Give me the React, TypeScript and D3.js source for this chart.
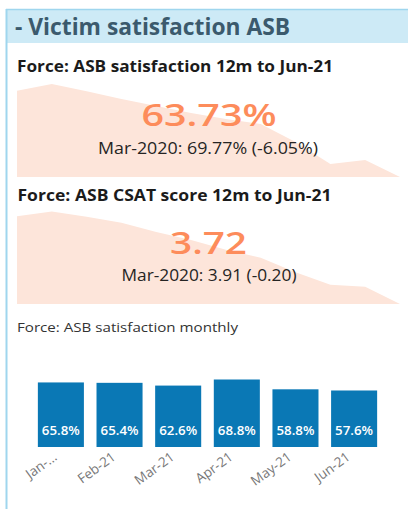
import React from "react";
import * as d3 from "d3";

const sparkMonths = ["Jul-20","Aug-20","Sep-20","Oct-20","Nov-20","Dec-20","Jan-21","Feb-21","Mar-21","Apr-21","May-21","Jun-21"];
const satisfaction12m = [66.67, 66.90, 66.65, 66.39, 66.15, 65.91, 65.71, 65.54, 64.92, 64.17, 64.31, 63.73];
const csat12m = [3.853, 3.860, 3.852, 3.843, 3.829, 3.817, 3.802, 3.790, 3.768, 3.749, 3.746, 3.720];

const barMonths = ["Jan-21","Feb-21","Mar-21","Apr-21","May-21","Jun-21"];
const barLabels = ["Jan-...","Feb-21","Mar-21","Apr-21","May-21","Jun-21"];
const barValues = [65.8, 65.4, 62.6, 68.8, 58.8, 57.6];

const FONT = "'Open Sans', 'Noto Sans', sans-serif";

function Spark({ values, top, bottom }: { values: number[]; top: number; bottom: number }) {
  const x = d3.scalePoint<string>().domain(sparkMonths).range([17, 400]);
  const y = d3.scaleLinear().domain([d3.min(values)!, d3.max(values)!]).range([bottom, top]);
  const area = d3
    .area<number>()
    .x((_, i) => x(sparkMonths[i])!)
    .y0(bottom)
    .y1((d) => y(d));
  return <path d={area(values) || ""} fill="#fde5da" />;
}

export default function App() {
  const xb = d3.scaleBand<string>().domain(barMonths).range([32, 383]).paddingInner(0.215).paddingOuter(0.1);
  const yb = d3.scaleLinear().domain([0, d3.max(barValues)!]).range([447, 379.5]);
  return (
    <svg width={408} height={509} style={{ position: "absolute", left: 0, top: 0 }} fontFamily={FONT}>
      <rect x={0} y={0} width={408} height={509} fill="#ffffff" />
      {/* header */}
      <rect x={6} y={9} width={402} height={34} fill="#cdeaf6" />
      <line x1={6} x2={408} y1={9.5} y2={9.5} stroke="#9fd6ee" strokeWidth={1.5} />
      <line x1={6.5} x2={6.5} y1={9} y2={509} stroke="#9fd6ee" strokeWidth={2} />
      <text x={15} y={35} fontSize={24} fontWeight={700} fill="#3b5a6d" textLength={275} lengthAdjust="spacingAndGlyphs">
        - Victim satisfaction ASB
      </text>

      {/* KPI 1 */}
      <text x={17} y={72} fontSize={15.5} fontWeight={700} fill="#1b1b1b" textLength={316} lengthAdjust="spacingAndGlyphs">
        Force: ASB satisfaction 12m to Jun-21
      </text>
      <Spark values={satisfaction12m} top={84} bottom={177} />
      <text x={209} y={125.5} fontSize={31} fontWeight={600} fill="#fd8c5b" textAnchor="middle" textLength={135} lengthAdjust="spacingAndGlyphs">
        63.73%
      </text>
      <text x={208} y={154} fontSize={17} fill="#252423" textAnchor="middle" textLength={220} lengthAdjust="spacingAndGlyphs">
        Mar-2020: 69.77% (-6.05%)
      </text>

      {/* KPI 2 */}
      <text x={17.5} y={200.5} fontSize={15.5} fontWeight={700} fill="#1b1b1b" textLength={314} lengthAdjust="spacingAndGlyphs">
        Force: ASB CSAT score 12m to Jun-21
      </text>
      <Spark values={csat12m} top={211.5} bottom={304} />
      <text x={208.5} y={254} fontSize={31} fontWeight={600} fill="#fd8c5b" textAnchor="middle" textLength={77} lengthAdjust="spacingAndGlyphs">
        3.72
      </text>
      <text x={209} y={281} fontSize={17} fill="#252423" textAnchor="middle" textLength={175} lengthAdjust="spacingAndGlyphs">
        Mar-2020: 3.91 (-0.20)
      </text>

      {/* bar chart */}
      <text x={17} y={331.5} fontSize={13.5} fill="#333333" textLength={221} lengthAdjust="spacingAndGlyphs">
        Force: ASB satisfaction monthly
      </text>
      {barValues.map((v, i) => {
        const m = barMonths[i];
        const bx = xb(m)!;
        const cx = bx + xb.bandwidth() / 2;
        return (
          <g key={m}>
            <rect x={bx} y={yb(v)} width={xb.bandwidth()} height={yb(0) - yb(v)} fill="#0a78b5" />
            <text x={cx} y={435} fontSize={12.5} fontWeight={600} fill="#ffffff" textAnchor="middle" textLength={38} lengthAdjust="spacingAndGlyphs">
              {v.toFixed(1)}%
            </text>
            <text
              transform={`translate(${cx - 3},${459}) rotate(-36)`}
              fontSize={13.5}
              fill="#777777"
              textAnchor="end"
            >
              {barLabels[i]}
            </text>
          </g>
        );
      })}
    </svg>
  );
}
